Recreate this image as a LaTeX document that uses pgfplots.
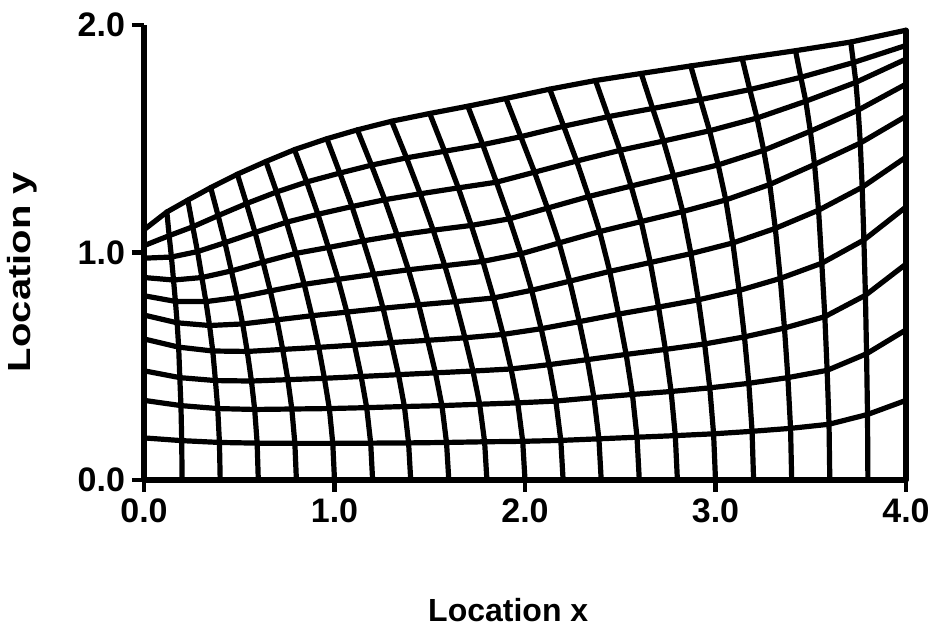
\documentclass[border=0pt]{standalone}
\usepackage{fontspec}
\setmainfont{Liberation Sans}
\usepackage{graphicx}
\usepackage{pgfplots}
\usepackage{pgfplotstable}
\pgfplotsset{compat=1.18}

% Nodes of the curvilinear grid: i runs along the wall (xi lines), j across it (eta lines)
\pgfplotstableread{
i j x y
0 0 0 0
0 1 0 0.185
0 2 0 0.350
0 3 0 0.480
0 4 0 0.620
0 5 0 0.725
0 6 0 0.810
0 7 0 0.890
0 8 0 0.975
0 9 0 1.030
0 10 0 1.100
1 0 0.200 0
1 1 0.198 0.173
1 2 0.194 0.327
1 3 0.188 0.450
1 4 0.182 0.584
1 5 0.174 0.691
1 6 0.165 0.785
1 7 0.155 0.879
1 8 0.144 0.980
1 9 0.132 1.074
1 10 0.120 1.178
2 0 0.400 0
2 1 0.396 0.165
2 2 0.387 0.314
2 3 0.375 0.437
2 4 0.361 0.567
2 5 0.344 0.679
2 6 0.325 0.784
2 7 0.304 0.890
2 8 0.281 1.004
2 9 0.256 1.113
2 10 0.230 1.230
3 0 0.600 0
3 1 0.594 0.162
3 2 0.581 0.310
3 3 0.564 0.435
3 4 0.542 0.565
3 5 0.518 0.686
3 6 0.490 0.802
3 7 0.459 0.919
3 8 0.425 1.043
3 9 0.389 1.162
3 10 0.350 1.285
4 0 0.800 0
4 1 0.792 0.161
4 2 0.776 0.312
4 3 0.755 0.441
4 4 0.728 0.574
4 5 0.698 0.704
4 6 0.663 0.831
4 7 0.625 0.958
4 8 0.583 1.088
4 9 0.538 1.215
4 10 0.490 1.344
5 0 1.000 0
5 1 0.991 0.161
5 2 0.973 0.314
5 3 0.947 0.447
5 4 0.917 0.583
5 5 0.881 0.722
5 6 0.841 0.860
5 7 0.797 0.996
5 8 0.748 1.133
5 9 0.696 1.266
5 10 0.640 1.400
6 0 1.200 0
6 1 1.190 0.162
6 2 1.169 0.318
6 3 1.140 0.455
6 4 1.105 0.593
6 5 1.065 0.738
6 6 1.019 0.882
6 7 0.968 1.022
6 8 0.913 1.168
6 9 0.854 1.310
6 10 0.790 1.452
7 0 1.400 0
7 1 1.389 0.163
7 2 1.367 0.323
7 3 1.336 0.463
7 4 1.298 0.604
7 5 1.255 0.755
7 6 1.206 0.904
7 7 1.151 1.051
7 8 1.092 1.202
7 9 1.028 1.349
7 10 0.960 1.500
8 0 1.600 0
8 1 1.588 0.165
8 2 1.564 0.327
8 3 1.530 0.471
8 4 1.489 0.614
8 5 1.442 0.770
8 6 1.388 0.924
8 7 1.329 1.076
8 8 1.264 1.232
8 9 1.194 1.384
8 10 1.120 1.539
9 0 1.800 0
9 1 1.788 0.168
9 2 1.762 0.333
9 3 1.727 0.479
9 4 1.685 0.625
9 5 1.635 0.784
9 6 1.579 0.942
9 7 1.518 1.098
9 8 1.450 1.258
9 9 1.378 1.416
9 10 1.300 1.577
10 0 2.000 0
10 1 1.988 0.170
10 2 1.962 0.339
10 3 1.927 0.488
10 4 1.885 0.640
10 5 1.835 0.800
10 6 1.779 0.961
10 7 1.718 1.119
10 8 1.650 1.284
10 9 1.578 1.445
10 10 1.500 1.611
11 0 2.200 0
11 1 2.188 0.174
11 2 2.162 0.347
11 3 2.127 0.507
11 4 2.085 0.665
11 5 2.035 0.834
11 6 1.979 0.994
11 7 1.918 1.148
11 8 1.850 1.309
11 9 1.778 1.474
11 10 1.700 1.643
12 0 2.400 0
12 1 2.388 0.181
12 2 2.362 0.362
12 3 2.327 0.529
12 4 2.285 0.696
12 5 2.235 0.874
12 6 2.179 1.042
12 7 2.118 1.195
12 8 2.050 1.353
12 9 1.978 1.509
12 10 1.900 1.677
13 0 2.600 0
13 1 2.588 0.188
13 2 2.564 0.376
13 3 2.531 0.552
13 4 2.491 0.729
13 5 2.445 0.917
13 6 2.392 1.092
13 7 2.334 1.246
13 8 2.271 1.402
13 9 2.203 1.555
13 10 2.130 1.718
14 0 2.800 0
14 1 2.789 0.195
14 2 2.767 0.389
14 3 2.737 0.574
14 4 2.701 0.760
14 5 2.658 0.956
14 6 2.610 1.136
14 7 2.557 1.292
14 8 2.499 1.449
14 9 2.437 1.597
14 10 2.370 1.756
15 0 3.000 0
15 1 2.990 0.203
15 2 2.970 0.405
15 3 2.943 0.598
15 4 2.910 0.792
15 5 2.871 0.995
15 6 2.828 1.180
15 7 2.780 1.337
15 8 2.727 1.490
15 9 2.670 1.633
15 10 2.610 1.787
16 0 3.200 0
16 1 3.192 0.214
16 2 3.175 0.425
16 3 3.152 0.629
16 4 3.124 0.833
16 5 3.091 1.042
16 6 3.054 1.231
16 7 3.014 1.385
16 8 2.969 1.535
16 9 2.921 1.672
16 10 2.870 1.820
17 0 3.400 0
17 1 3.394 0.227
17 2 3.380 0.450
17 3 3.362 0.668
17 4 3.340 0.886
17 5 3.314 1.106
17 6 3.285 1.299
17 7 3.253 1.449
17 8 3.218 1.591
17 9 3.180 1.716
17 10 3.140 1.853
18 0 3.600 0
18 1 3.596 0.245
18 2 3.586 0.482
18 3 3.574 0.718
18 4 3.558 0.953
18 5 3.541 1.186
18 6 3.520 1.387
18 7 3.498 1.533
18 8 3.474 1.665
18 9 3.448 1.770
18 10 3.420 1.887
19 0 3.800 0
19 1 3.798 0.288
19 2 3.793 0.555
19 3 3.787 0.812
19 4 3.779 1.055
19 5 3.770 1.287
19 6 3.760 1.481
19 7 3.749 1.626
19 8 3.737 1.748
19 9 3.724 1.835
19 10 3.710 1.925
20 0 4.000 0
20 1 4.000 0.350
20 2 4.000 0.660
20 3 4.000 0.949
20 4 4.000 1.200
20 5 4.000 1.419
20 6 4.000 1.599
20 7 4.000 1.740
20 8 4.000 1.850
20 9 4.000 1.910
20 10 4.000 1.977
}\gridpts

% same nodes, reordered so that each eta line is a contiguous run of rows
\pgfplotstablecreatecol[create col/expr={\thisrow{j}*100+\thisrow{i}}]{k}\gridpts
\pgfplotstablesort[sort key=k]\gridbyj\gridpts

\begin{document}
\begin{tikzpicture}
\useasboundingbox (-72pt,-75pt) rectangle (397pt,240pt);
\begin{axis}[
  x=95.25pt, y=113.75pt,
  xmin=0, xmax=4, ymin=0, ymax=2,
  axis x line=bottom, axis y line=left,
  axis line style={-, line width=2.6pt, black},
  x axis line style={-}, y axis line style={-},
  clip=false,
  xtick={0,1,2,3,4}, ytick={0,1,2},
  minor tick num=0,
  tick align=outside,
  major tick length=6pt,
  tick style={line width=2.4pt, black},
  /pgf/number format/assume math mode=true,
  xticklabel={\pgfmathprintnumber[fixed,fixed zerofill,precision=1]{\tick}},
  yticklabel={\pgfmathprintnumber[fixed,fixed zerofill,precision=1]{\tick}},
  ticklabel style={font=\fontsize{17}{20}\selectfont\bfseries},
  xlabel={Location x},
  ylabel={\scalebox{1.25}[1]{Location y}},
  xlabel style={at={(axis description cs:0.478,-0.286)}, anchor=center,
    font=\fontsize{16}{19}\selectfont\bfseries},
  ylabel style={at={(axis description cs:-0.160,0.457)}, anchor=center,
    font=\fontsize{16}{19}\selectfont\bfseries},
  unbounded coords=discard,
  filter discard warning=false,
  gridline/.style={black, line width=2.6pt, line join=round, line cap=round, mark=none},
]
% lines of constant xi (running from the wall to the outer boundary)
\pgfplotsinvokeforeach{0,...,20}{
  \addplot[gridline, restrict expr to domain={\thisrow{i}}{#1:#1}]
    table[x=x, y=y] {\gridpts};
}
% lines of constant eta (running along the wall)
\pgfplotsinvokeforeach{0,...,10}{
  \addplot[gridline, restrict expr to domain={\thisrow{j}}{#1:#1}]
    table[x=x, y=y] {\gridbyj};
}
\end{axis}
\end{tikzpicture}
\end{document}
